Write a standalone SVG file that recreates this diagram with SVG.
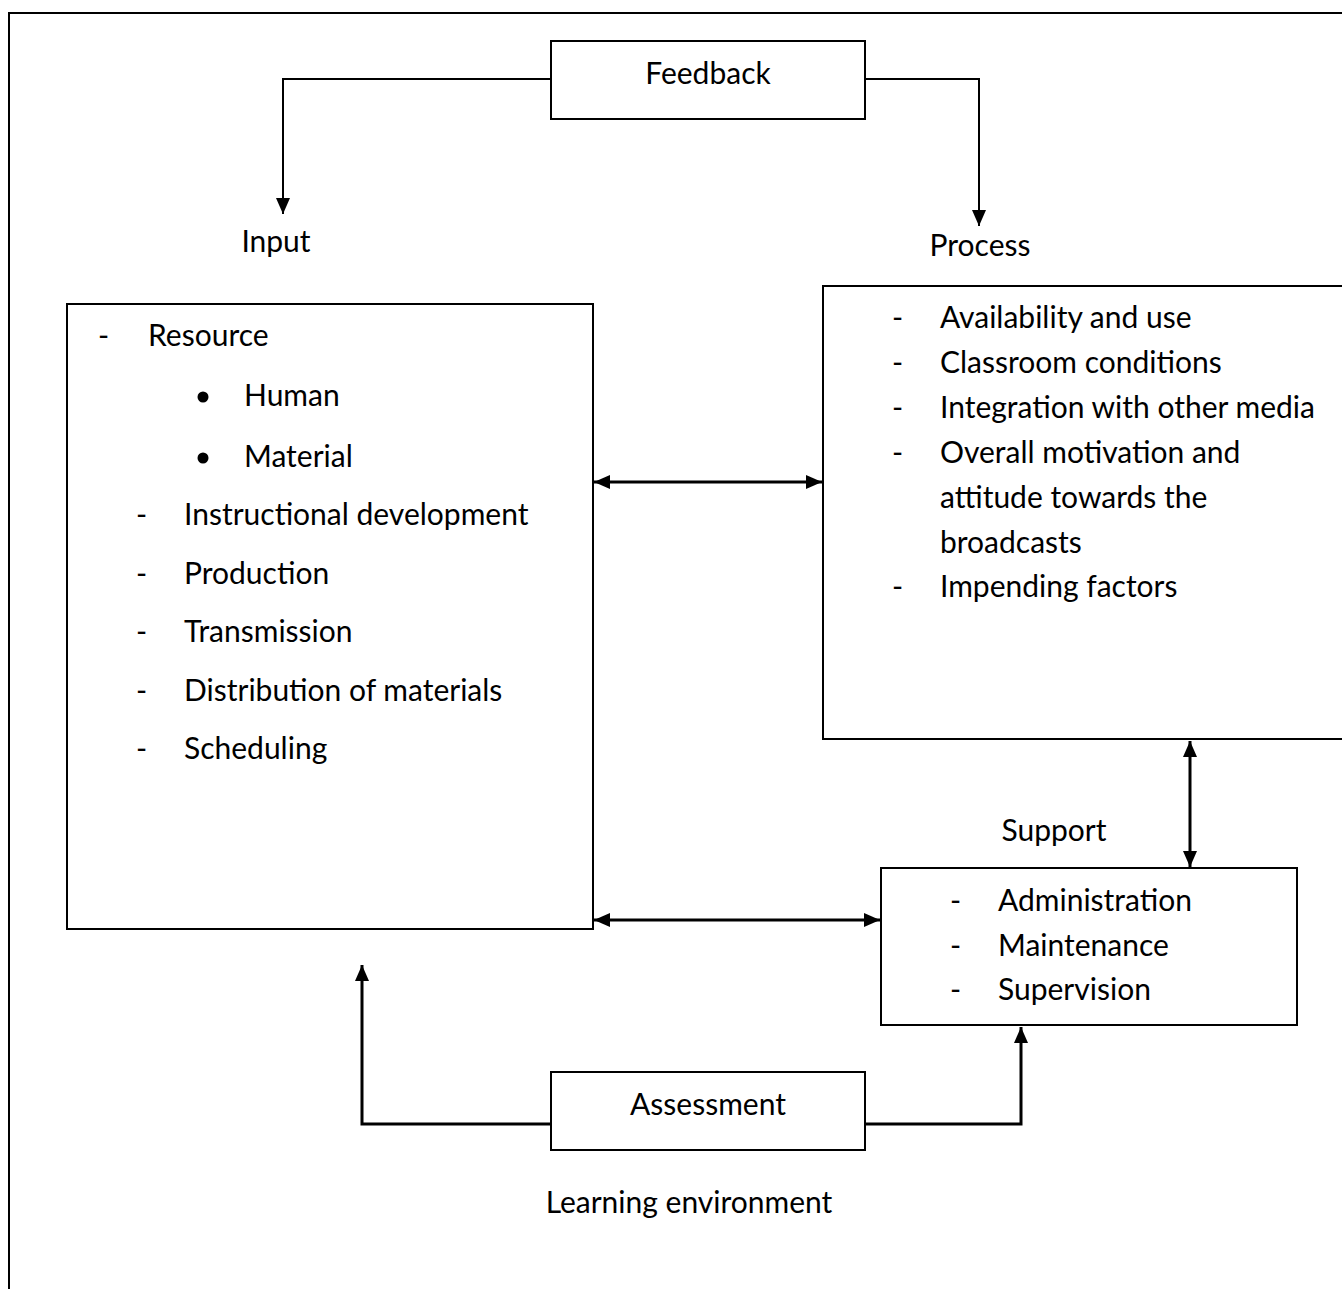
<svg xmlns="http://www.w3.org/2000/svg" width="1342" height="1289" viewBox="0 0 1342 1289">
<style>
text{font-family:Lato,"Open Sans","Liberation Sans",sans-serif;font-size:30px;fill:#000}
.box{fill:#fff;stroke:#000;stroke-width:2}
.ln{fill:none;stroke:#000;stroke-width:2}
.ar{fill:none;stroke:#000;stroke-width:3}
</style>
<defs>
<marker id="ah" viewBox="0 0 16 14" refX="16" refY="7" markerWidth="16" markerHeight="14" markerUnits="userSpaceOnUse" orient="auto-start-reverse">
<path d="M0,0 L16,7 L0,14 Z" fill="#000"/>
</marker>
</defs>
<rect x="0" y="0" width="1342" height="1289" fill="#fff"/>
<path class="ln" d="M9,1289 V13 H1342" stroke-width="2.5"/>
<g id="connectors">
<path class="ln" d="M551,79 H283 V214" marker-end="url(#ah)"/>
<path class="ln" d="M865,79 H979 V226" marker-end="url(#ah)"/>
<path class="ar" d="M594,482 H822" marker-start="url(#ah)" marker-end="url(#ah)"/>
<path class="ar" d="M1190,741 V867" marker-start="url(#ah)" marker-end="url(#ah)"/>
<path class="ar" d="M594,920 H880" marker-start="url(#ah)" marker-end="url(#ah)"/>
<path class="ar" d="M551,1124 H362 V965" marker-end="url(#ah)"/>
<path class="ar" d="M865,1124 H1021 V1027" marker-end="url(#ah)"/>
</g>
<g id="feedback">
<rect class="box" x="551" y="41" width="314" height="78"/>
<text x="708" y="84" text-anchor="middle">Feedback</text>
</g>
<g id="input-label"><text x="276" y="252" text-anchor="middle">Input</text></g>
<g id="process-label"><text x="980" y="256" text-anchor="middle">Process</text></g>
<g id="input">
<rect class="box" x="67" y="304" width="526" height="625"/>
<text x="98" y="346">-</text><text x="148" y="346">Resource</text>
<circle cx="203" cy="397" r="5.5"/><text x="244" y="406">Human</text>
<circle cx="203" cy="458" r="5.5"/><text x="244" y="467">Material</text>
<text x="136" y="525">-</text><text x="184" y="525">Instructional development</text>
<text x="136" y="584">-</text><text x="184" y="584">Production</text>
<text x="136" y="642">-</text><text x="184" y="642">Transmission</text>
<text x="136" y="701">-</text><text x="184" y="701">Distribution of materials</text>
<text x="136" y="759">-</text><text x="184" y="759">Scheduling</text>
</g>
<g id="process">
<rect class="box" x="823" y="286" width="530" height="453"/>
<text x="892" y="328">-</text><text x="940" y="328">Availability and use</text>
<text x="892" y="373">-</text><text x="940" y="373">Classroom conditions</text>
<text x="892" y="418">-</text><text x="940" y="418">Integration with other media</text>
<text x="892" y="463">-</text><text x="940" y="463">Overall motivation and</text>
<text x="940" y="508">attitude towards the</text>
<text x="940" y="553">broadcasts</text>
<text x="892" y="597">-</text><text x="940" y="597">Impending factors</text>
</g>
<g id="support-label"><text x="1054" y="841" text-anchor="middle">Support</text></g>
<g id="support">
<rect class="box" x="881" y="868" width="416" height="157"/>
<text x="950" y="911">-</text><text x="998" y="911">Administration</text>
<text x="950" y="956">-</text><text x="998" y="956">Maintenance</text>
<text x="950" y="1000">-</text><text x="998" y="1000">Supervision</text>
</g>
<g id="assessment">
<rect class="box" x="551" y="1072" width="314" height="78"/>
<text x="708" y="1115" text-anchor="middle">Assessment</text>
</g>
<g id="environment-label"><text x="689" y="1213" text-anchor="middle">Learning environment</text></g>
</svg>
